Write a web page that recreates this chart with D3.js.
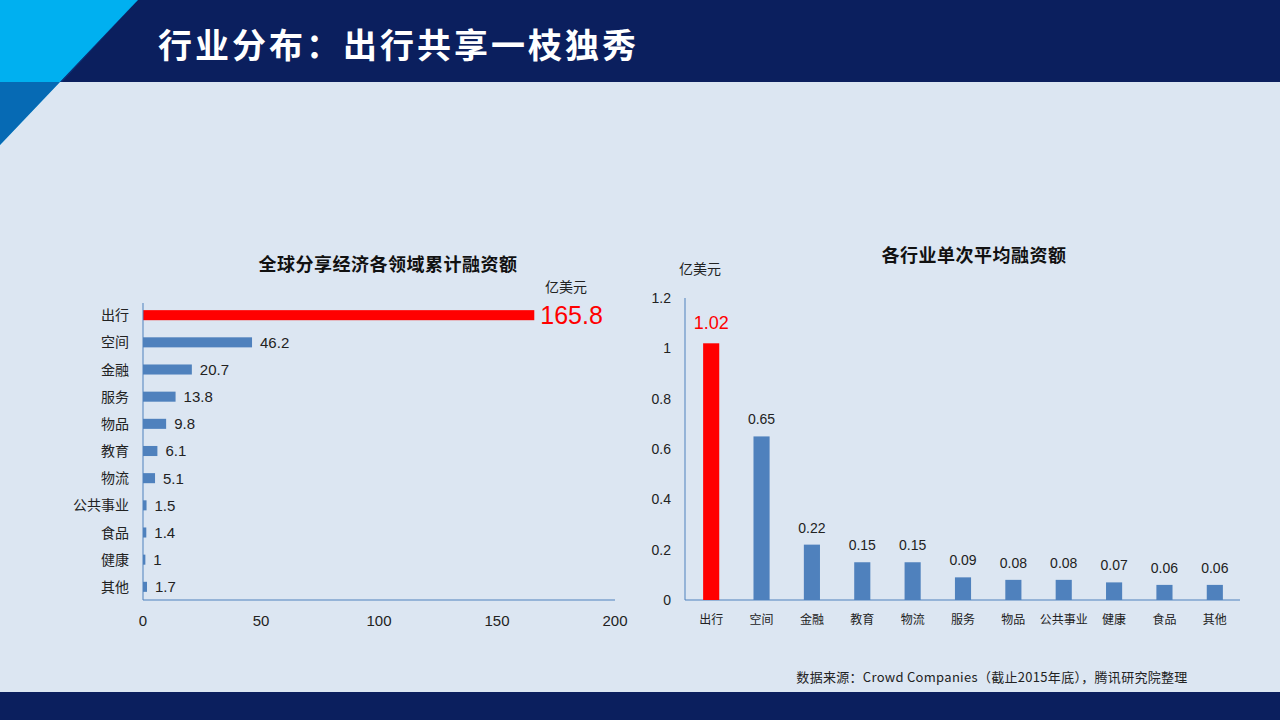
<!DOCTYPE html><html><head><meta charset="utf-8"><script src="https://cdn.jsdelivr.net/npm/d3@7"></script>
<style>body{margin:0}svg{display:block;font-family:"Microsoft YaHei","Noto Sans CJK SC",sans-serif}</style></head><body><svg id="c" width="1280" height="720"></svg><script>
const leftCats=["出行","空间","金融","服务","物品","教育","物流","公共事业","食品","健康","其他"];
const leftVals=[165.8,46.2,20.7,13.8,9.8,6.1,5.1,1.5,1.4,1,1.7];
const leftTicks=[0,50,100,150,200];
const rightCats=["出行","空间","金融","教育","物流","服务","物品","公共事业","健康","食品","其他"];
const rightVals=[1.02,0.65,0.22,0.15,0.15,0.09,0.08,0.08,0.07,0.06,0.06];
const rightTicks=[0,0.2,0.4,0.6,0.8,1,1.2];
const blue="#4f81bd",red="#ff0000",navy="#0b1f5e";
const svg=d3.select("#c");
svg.append("rect").attr("width",1280).attr("height",720).attr("fill","#dce6f2");
svg.append("rect").attr("width",1280).attr("height",82).attr("fill",navy);
svg.append("path").attr("d","M0,0L138,0L0,145Z").attr("fill","#00b0f0");
svg.append("path").attr("d","M138,0L62,82L0,82L0,145Z").attr("fill","#0a3c8c").attr("opacity",0.6);
svg.append("text").attr("x",158).attr("y",58).attr("fill","#fff").attr("font-size",34).attr("letter-spacing",3).attr("font-weight","bold").text("行业分布：出行共享一枝独秀");
svg.append("rect").attr("y",692).attr("width",1280).attr("height",28).attr("fill",navy);
// left
const x=d3.scaleLinear().domain([0,200]).range([143,615]);
const y=d3.scaleBand().domain(leftCats).range([302,600]).paddingInner(0.63).paddingOuter(0.3);
svg.append("text").attr("x",388).attr("y",271).attr("text-anchor","middle").attr("font-size",18).attr("letter-spacing",0.5).attr("font-weight","bold").attr("fill","#111").text("全球分享经济各领域累计融资额");
svg.append("text").attr("x",566).attr("y",292).attr("text-anchor","middle").attr("font-size",14).attr("fill","#222").text("亿美元");
svg.selectAll(".lb").data(leftCats).join("rect").attr("x",x(0)).attr("y",d=>y(d)).attr("height",y.bandwidth()).attr("width",(d,i)=>x(leftVals[i])-x(0)).attr("fill",(d,i)=>i===0?red:blue);
svg.selectAll(".lv").data(leftCats).join("text").attr("x",(d,i)=>x(leftVals[i])+(i===0?6:8)).attr("y",d=>y(d)+y.bandwidth()/2).attr("dy","0.36em").attr("font-size",(d,i)=>i===0?25:15).attr("fill",(d,i)=>i===0?red:"#222").attr("font-family","Arial,Liberation Sans,sans-serif").text((d,i)=>leftVals[i]);
svg.selectAll(".lc").data(leftCats).join("text").attr("x",129).attr("y",d=>y(d)+y.bandwidth()/2).attr("dy","0.36em").attr("text-anchor","end").attr("font-size",14).attr("fill","#222").text(d=>d);
svg.append("line").attr("x1",143).attr("x2",143).attr("y1",303).attr("y2",600).attr("stroke",blue);
svg.append("line").attr("x1",143).attr("x2",615).attr("y1",600).attr("y2",600).attr("stroke",blue);
svg.selectAll(".lt").data(leftTicks).join("text").attr("x",d=>x(d)).attr("y",626).attr("text-anchor","middle").attr("font-size",15).attr("fill","#222").attr("font-family","Arial,Liberation Sans,sans-serif").text(d=>d);
// right
const yr=d3.scaleLinear().domain([0,1.2]).range([600,298]);
const xr=d3.scaleBand().domain(rightCats).range([686,1240]).paddingInner(0.68).paddingOuter(0.34);
svg.append("text").attr("x",974).attr("y",262).attr("text-anchor","middle").attr("font-size",18).attr("letter-spacing",0.5).attr("font-weight","bold").attr("fill","#111").text("各行业单次平均融资额");
svg.append("text").attr("x",700).attr("y",274).attr("text-anchor","middle").attr("font-size",14).attr("fill","#222").text("亿美元");
svg.append("line").attr("x1",685).attr("x2",685).attr("y1",298).attr("y2",600).attr("stroke",blue);
svg.append("line").attr("x1",685).attr("x2",1240).attr("y1",600).attr("y2",600).attr("stroke",blue);
svg.selectAll(".rt").data(rightTicks).join("text").attr("x",671).attr("y",d=>yr(d)).attr("dy","0.36em").attr("text-anchor","end").attr("font-size",14).attr("fill","#222").attr("font-family","Arial,Liberation Sans,sans-serif").text(d=>d);
svg.selectAll(".rb").data(rightCats).join("rect").attr("x",d=>xr(d)).attr("width",xr.bandwidth()).attr("y",(d,i)=>yr(rightVals[i])).attr("height",(d,i)=>600-yr(rightVals[i])).attr("fill",(d,i)=>i===0?red:blue);
svg.selectAll(".rv").data(rightCats).join("text").attr("x",d=>xr(d)+xr.bandwidth()/2).attr("y",(d,i)=>yr(rightVals[i])-(i===0?14:12)).attr("text-anchor","middle").attr("font-size",(d,i)=>i===0?18:14).attr("fill",(d,i)=>i===0?red:"#222").attr("font-family","Arial,Liberation Sans,sans-serif").text((d,i)=>rightVals[i]);
svg.selectAll(".rc").data(rightCats).join("text").attr("x",d=>xr(d)+xr.bandwidth()/2).attr("y",624).attr("text-anchor","middle").attr("font-size",12).attr("fill","#222").text(d=>d);
svg.append("text").attr("x",992).attr("y",682).attr("text-anchor","middle").attr("font-size",13).attr("letter-spacing",0.3).attr("fill","#222").text("数据来源：Crowd  Companies（截止2015年底），腾讯研究院整理");
</script></body></html>
